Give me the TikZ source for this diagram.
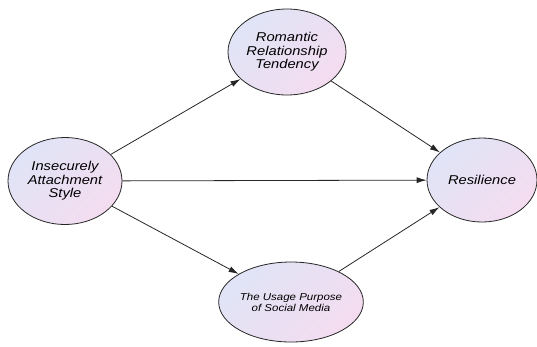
\documentclass[tikz,border=0pt]{standalone}
\usepackage{fontspec}
\setmainfont{Liberation Sans}
\usetikzlibrary{arrows.meta,shapes.geometric}
\definecolor{shadeA}{RGB}{224,228,246}
\definecolor{shadeB}{RGB}{244,220,240}
\newfontfamily\wideit[FakeStretch=1.15,ItalicFont={* Italic}]{Liberation Sans}
\begin{document}
\begin{tikzpicture}[x=1pt,y=-1pt,
  var/.style={ellipse,draw=black!85,line width=0.8pt,top color=shadeA,bottom color=shadeB,shading angle=45,
    inner sep=0pt,align=center,font=\wideit\itshape\fontsize{12.8}{13.5}\selectfont},
  link/.style={draw=black!85,line width=0.8pt,-{Latex[length=10pt,width=6pt]}}]
\useasboundingbox (0,0) rectangle (537,346);
\node[var,minimum width=114,minimum height=87] (ias) at (65,181) {Insecurely\\Attachment\\Style};
\node[var,minimum width=118,minimum height=86] (rrt) at (287,52) {Romantic\\Relationship\\Tendency};
\node[var,minimum width=110,minimum height=84] (res) at (482,180) {Resilience};
\node[var,minimum width=110,minimum height=80,font=\wideit\itshape\fontsize{10}{11}\selectfont] (usm) at (291,302) {The Usage Purpose\\of Social Media};
\draw[link] (ias) -- (rrt);
\draw[link] (ias) -- (res);
\draw[link] (ias) -- (usm);
\draw[link] (rrt) -- (res);
\draw[link] (usm) -- (res);
\end{tikzpicture}
\end{document}
